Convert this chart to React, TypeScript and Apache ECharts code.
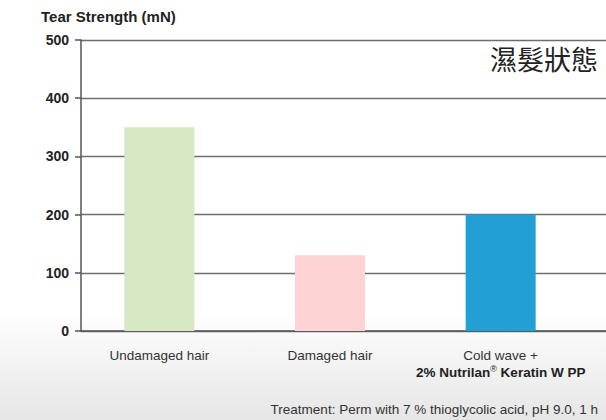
import React, { useEffect, useRef } from "react";
import * as echarts from "echarts";

const categories = ["Undamaged hair", "Damaged hair", "Cold wave +"];
const values = [350, 130, 200];
const barColors = ["#d6e8c4", "#fdd3d4", "#229fd4"];
const yTicks = [0, 100, 200, 300, 400, 500];
const titleText = "Tear Strength (mN)";
const stateText = "濕髮狀態";
const footerText = "Treatment: Perm with 7 % thioglycolic acid, pH 9.0, 1 h";

export default function App() {
  const ref = useRef<HTMLDivElement>(null);
  useEffect(() => {
    document.body.style.margin = "0";
    const chart = echarts.init(ref.current!, null, { renderer: "svg" });
    const font = "'Liberation Sans', Arial, sans-serif";
    chart.setOption({
      animation: false,
      backgroundColor: "#ffffff",
      textStyle: { fontFamily: font },
      graphic: [
        {
          type: "rect",
          z: -100,
          silent: true,
          shape: { x: 0, y: 0, width: 606, height: 420 },
          style: {
            fill: {
              type: "linear",
              x: 0, y: 0, x2: 0, y2: 1,
              colorStops: [
                { offset: 0, color: "#ffffff" },
                { offset: 0.74, color: "#ffffff" },
                { offset: 1, color: "#e6e6e6" },
              ],
            },
          },
        },
        {
          type: "text",
          left: 41,
          top: 9,
          style: { text: titleText, font: `bold 15px ${font}`, fill: "#222" },
        },
        {
          type: "text",
          right: 8,
          top: 45,
          style: { text: stateText, font: `27px 'Noto Sans CJK TC', sans-serif`, fill: "#222" },
        },
        {
          type: "text",
          right: 8,
          top: 402,
          style: { text: footerText, font: `13.5px ${font}`, fill: "#333" },
        },
      ],
      grid: [
        { left: 81, right: 0, top: 40, bottom: 89 },
        { left: 74, right: 20, top: 40, bottom: 89 },
      ],
      xAxis: [
        {
          gridIndex: 0,
          type: "value",
          min: 0,
          max: 1,
          axisLine: { show: true, onZero: false, lineStyle: { color: "#555", width: 1.5 } },
          axisTick: { show: false },
          axisLabel: { show: false },
          splitLine: { show: false },
        },
        {
          gridIndex: 1,
          type: "category",
          data: categories,
          axisLine: { show: false },
          axisTick: { show: false },
          axisLabel: {
            interval: 0,
            margin: 16,
            fontSize: 13.5,
            color: "#333",
            fontFamily: font,
            lineHeight: 17,
            formatter: (v: string) =>
              v === "Cold wave +"
                ? "{n|Cold wave +}\n{b|2% Nutrilan}{sup|®}{b| Keratin W PP}"
                : "{n|" + v + "}",
            rich: {
              n: { fontSize: 13.5, color: "#333", fontFamily: font, lineHeight: 17 },
              b: { fontSize: 13.5, fontWeight: "bold", color: "#222", fontFamily: font, lineHeight: 17 },
              sup: { fontSize: 9, color: "#222", fontFamily: font, verticalAlign: "top", lineHeight: 17, padding: [0, 0, 4, 0] },
            },
          },
        },
      ],
      yAxis: [
        {
          gridIndex: 0,
          type: "value",
          min: 0,
          max: 500,
          interval: 100,
          axisLine: { show: true, lineStyle: { color: "#555", width: 1.5 } },
          axisTick: { show: true, length: 6, lineStyle: { color: "#555", width: 1.5 } },
          axisLabel: {
            margin: 12,
            fontSize: 14,
            fontWeight: "bold",
            color: "#222",
            fontFamily: font,
            customValues: yTicks,
          },
          splitLine: { show: true, lineStyle: { color: "#6e6e6e", width: 1.3 } },
        },
        {
          gridIndex: 1,
          type: "value",
          min: 0,
          max: 500,
          show: false,
          splitLine: { show: false },
        },
      ],
      series: [
        {
          type: "bar",
          xAxisIndex: 1,
          yAxisIndex: 1,
          barWidth: 70,
          data: values.map((v, i) => ({ value: v, itemStyle: { color: barColors[i] } })),
        },
      ],
    });
    return () => chart.dispose();
  }, []);
  return <div ref={ref} style={{ width: 606, height: 420 }} />;
}
